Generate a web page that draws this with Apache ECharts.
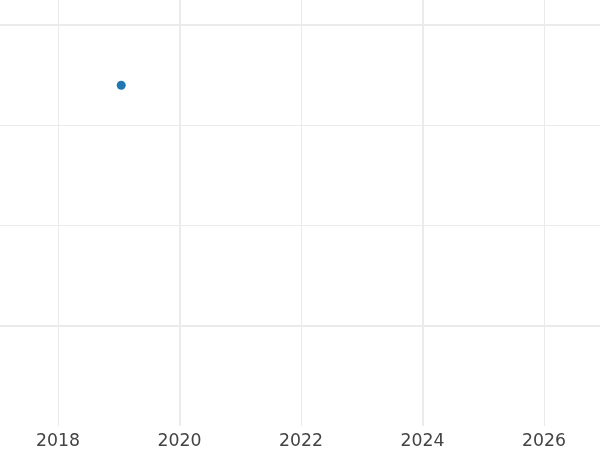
<!DOCTYPE html>
<html><head><meta charset="utf-8">
<script src="https://cdn.jsdelivr.net/npm/echarts@6/dist/echarts.min.js"></script>
<style>html,body{margin:0;padding:0;background:#fff}#c{width:600px;height:450px}</style>
</head><body><div id="c"></div>
<script>
const xDates = [2019.04];
const yValues = [3.40];
const xMinorTicks = [2018, 2022, 2026];
const xMajorTicks = [2020, 2024];
const xLabelTicks = [2018, 2020, 2022, 2024, 2026];
const yMinorTicks = [2, 3];
const yMajorTicks = [1, 4];
const xRange = [2017.045, 2026.92];
const yRange = [0, 4.25];

const chart = echarts.init(document.getElementById('c'), null, {renderer: 'canvas'});
const thin = {color: '#ebebeb', width: 1};
const thick = {color: '#ebebeb', width: 2};
chart.setOption({
  animation: false,
  backgroundColor: '#ffffff',
  grid: {left: 0, right: 0, top: 0, bottom: 23, containLabel: false},
  xAxis: [
    {type: 'value', min: xRange[0], max: xRange[1],
     axisLine: {show: false}, axisTick: {show: false, customValues: xMinorTicks},
     axisLabel: {customValues: xLabelTicks, color: '#444444', fontSize: 17.3, fontFamily: 'DejaVu Sans', margin: 7,
       formatter: v => String(Math.round(v))},
     splitLine: {show: true, lineStyle: thin}},
    {type: 'value', min: xRange[0], max: xRange[1], position: 'bottom',
     axisLine: {show: false}, axisTick: {show: false, customValues: xMajorTicks},
     axisLabel: {show: false}, splitLine: {show: true, lineStyle: thick}}
  ],
  yAxis: [
    {type: 'value', min: yRange[0], max: yRange[1],
     axisLine: {show: false}, axisTick: {show: false, customValues: yMinorTicks},
     axisLabel: {show: false}, splitLine: {show: true, lineStyle: thin}},
    {type: 'value', min: yRange[0], max: yRange[1],
     axisLine: {show: false}, axisTick: {show: false, customValues: yMajorTicks},
     axisLabel: {show: false}, splitLine: {show: true, lineStyle: thick}}
  ],
  series: [{
    type: 'scatter', xAxisIndex: 0, yAxisIndex: 0,
    data: xDates.map((x, i) => [x, yValues[i]]),
    symbolSize: 9, itemStyle: {color: '#1f77b4', opacity: 1}
  }]
});
</script></body></html>
